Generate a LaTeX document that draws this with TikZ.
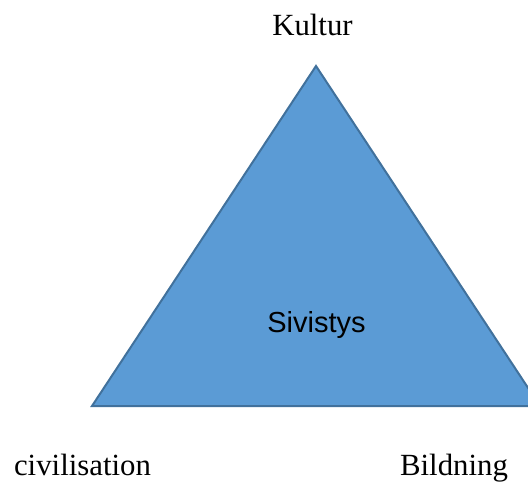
\documentclass[tikz,border=0pt]{standalone}
\usepackage{fontspec}
\setmainfont{Liberation Serif}
\newfontfamily\arialfont{Liberation Sans}
\definecolor{trifill}{HTML}{5B9BD5}
\definecolor{triedge}{HTML}{41719C}
\tikzset{
  lbl/.style={font=\fontsize{30.8}{36}\selectfont, inner sep=0pt, anchor=base, text=black},
  inlbl/.style={font=\arialfont\fontsize{29}{35}\selectfont, inner sep=0pt, anchor=base, text=black},
  tri/.style={fill=trifill, draw=triedge, line width=2pt, line join=miter}
}
\begin{document}
\begin{tikzpicture}[x=1pt,y=-1pt]
\useasboundingbox (0,0) rectangle (528,483);
\begin{scope}
\clip (0,0) rectangle (528,483);
\coordinate (apex) at (316,66);
\coordinate (bl) at (92,406);
\coordinate (br) at (540,406);
\draw[tri] (apex) -- (bl) -- (br) -- cycle;
\end{scope}
\node[lbl] (kul) at (312.5,35) {Kultur};
\node[inlbl] (siv) at (316.5,332) {Sivistys};
\node[lbl] (civ) at (82.5,475) {civilisation};
\node[lbl] (bil) at (454,475) {Bildning};
\end{tikzpicture}
\end{document}
